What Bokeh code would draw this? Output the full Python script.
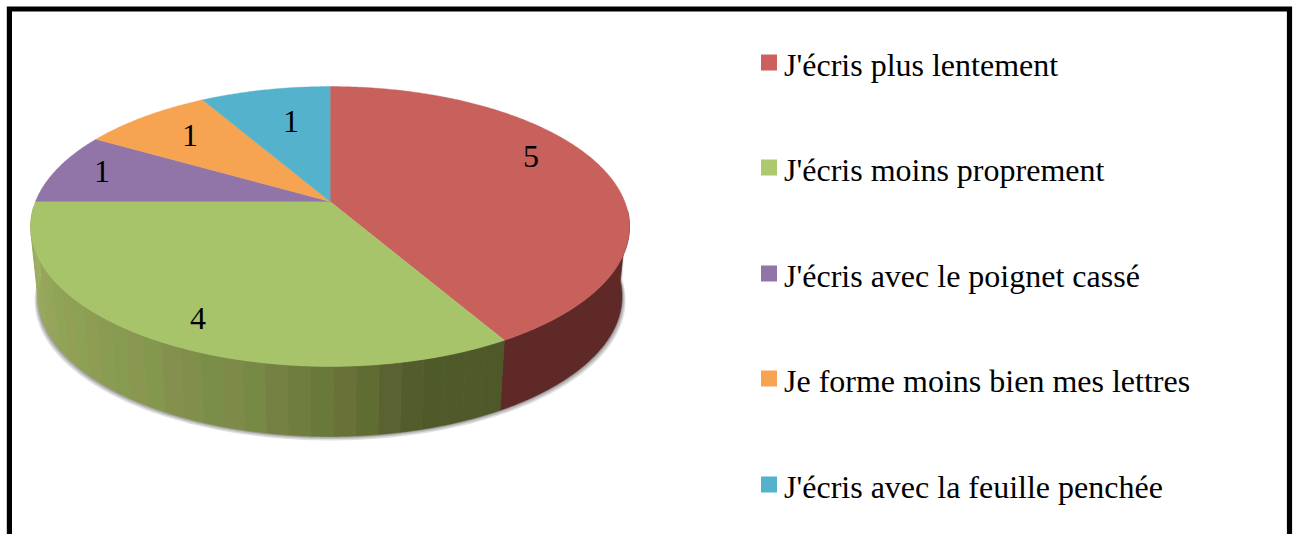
import math
from bokeh.plotting import figure
from bokeh.models import Range1d
from bokeh.core.properties import value
from bokeh.embed import file_html
from bokeh.resources import INLINE

# ---- data -------------------------------------------------------------
categories = ["J'écris plus lentement", "J'écris moins proprement",
              "J'écris avec le poignet cassé", "Je forme moins bien mes lettres",
              "J'écris avec la feuille penchée"]
counts = [5, 4, 1, 1, 1]
top_colors = ["#C8605C", "#A7C46A", "#9174A8", "#F6A352", "#54B2CC"]
swatch_colors = ["#CD605C", "#AEC86E", "#9174A8", "#F6A352", "#54B2CC"]

# ---- layout (page pixels) ----------------------------------------------
CX, APEX_Y, RX, RY, K = 329.6, 201.0, 294.6, 135.5, 0.1786
FLOOR_Y, FLOOR_SX = 271.0, 0.975
TEXT_SHIFT = -12
LABEL_X = [530.5, 197.5, 101.5, 189.5, 290.5]
LABEL_Y = [168, 330, 183, 147, 133]
LEG_SW_X, LEG_TXT_X, LEG_SW = 768.5, 783.5, 16
LEG_Y = [62, 167, 273, 378, 484]


def rim(theta_deg, scale_x=1.0, base_y=APEX_Y):
    t = math.radians(theta_deg)
    u, v = math.sin(t), math.cos(t)
    w = 1 + K * v
    return CX + RX * scale_x * u / w, base_y - RY * v / w


def frange(a, b, step=1.0):
    n = max(1, int(abs(b - a) / step))
    return [a + (b - a) * i / n for i in range(n + 1)]


p = figure(width=1294, height=534, x_range=Range1d(0, 1294), y_range=Range1d(534, 0),
           output_backend="svg", toolbar_location=None, min_border=0,
           outline_line_color=None, background_fill_color="white",
           border_fill_color="white")
p.axis.visible = False
p.grid.visible = False

total = sum(counts)
edges = [0.0]
for c in counts:
    edges.append(edges[-1] + 360.0 * c / total)

# soft shadow below the disc
for grow, drop, alpha in [(1.012, 4.0, 0.25), (1.008, 2.5, 0.35), (1.004, 1.2, 0.45)]:
    pts = [rim(a, FLOOR_SX * grow, FLOOR_Y + drop) for a in frange(92, 268)]
    top = [rim(a) for a in frange(268, 92)]
    p.patch([q[0] for q in pts] + [q[0] for q in top],
            [q[1] for q in pts] + [q[1] for q in top],
            fill_color="#808080", fill_alpha=alpha, line_color=None)


def wall(a, b, color):
    outer = [rim(t, FLOOR_SX, FLOOR_Y) for t in frange(a, b, 0.5)]
    inner = [rim(t) for t in frange(b, a, 0.5)]
    p.patch([q[0] for q in outer] + [q[0] for q in inner],
            [q[1] for q in outer] + [q[1] for q in inner],
            fill_color=color, line_color=color, line_width=0.6)


# side wall of the first slice
wall(94, edges[1], "#5E2926")

# side wall of the second slice: vertical shading bands
stops = [(150, (78, 88, 40)), (165, (80, 90, 42)), (180, (106, 118, 58)),
         (195, (122, 138, 72)), (215, (135, 152, 80)), (240, (146, 165, 88)),
         (268, (160, 176, 100))]
tints = [(2, -2, 1), (-1, 2, -1), (3, -1, 0), (-2, 1, -1), (0, 0, 0)]


def band_color(a, i):
    for (a0, c0), (a1, c1) in zip(stops, stops[1:]):
        if a0 <= a <= a1:
            f = (a - a0) / (a1 - a0)
            base = [c0[j] + (c1[j] - c0[j]) * f for j in range(3)]
            break
    tint = tints[i % len(tints)] if a > 160 else (0, 0, 0)
    return "#%02X%02X%02X" % tuple(int(round(base[j] + tint[j])) for j in range(3))


band_edges = frange(edges[1], 268, 3.6)
for i, (a, b) in enumerate(zip(band_edges, band_edges[1:])):
    wall(a, b, band_color((a + b) / 2, i))

# top surface
for i in range(len(counts)):
    pts = [rim(t) for t in frange(edges[i], edges[i + 1], 0.5)]
    p.patch([CX] + [q[0] for q in pts], [APEX_Y] + [q[1] for q in pts],
            fill_color=top_colors[i], line_color=top_colors[i], line_width=0.4)

# slice value labels
p.text(LABEL_X, [y + TEXT_SHIFT for y in LABEL_Y], text=[str(c) for c in counts],
       text_font=value("Liberation Serif"),
       text_font_size="32px", text_color="#000000", text_align="center",
       text_baseline="alphabetic")

# legend
p.rect([LEG_SW_X] * 5, LEG_Y, width=LEG_SW, height=LEG_SW, fill_color=swatch_colors, line_color=None)
p.text([LEG_TXT_X] * 5, [y + 14 + TEXT_SHIFT for y in LEG_Y], text=categories,
       text_font=value("Liberation Serif"),
       text_font_size="32px", text_color="#000000", text_align="left", text_baseline="alphabetic")

# black frame, open past the bottom of the page
p.quad(left=[8.9], right=[1289], top=[8.5], bottom=[600], fill_color=None,
       line_color="#000000", line_width=5.2, line_join="miter")

open("out.html", "w").write(file_html(p, INLINE))
